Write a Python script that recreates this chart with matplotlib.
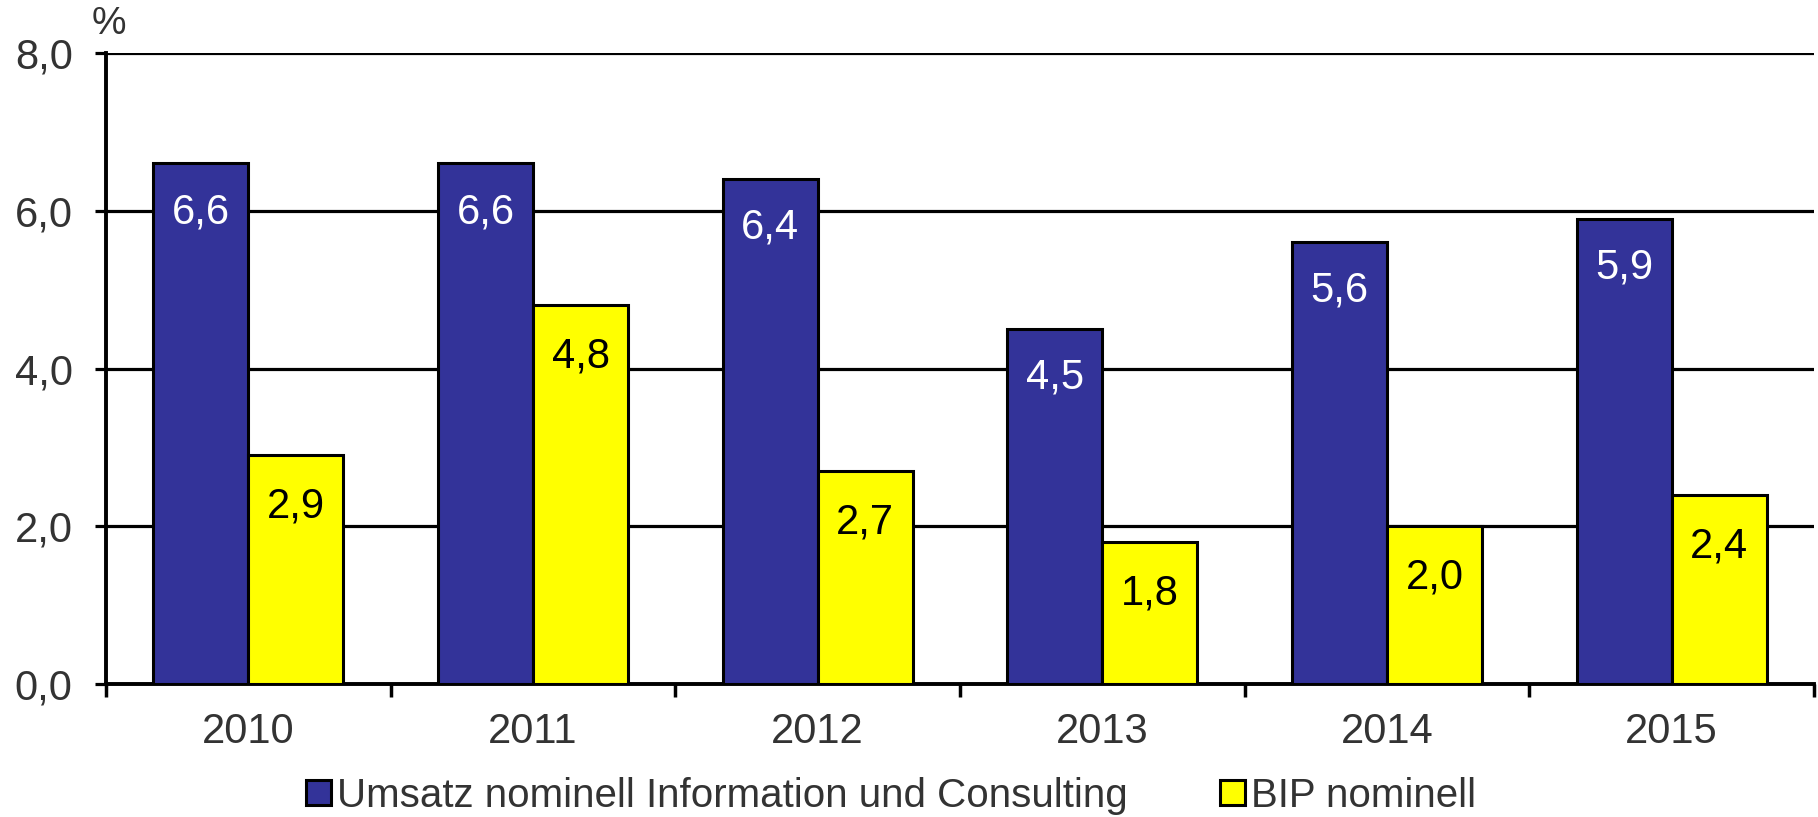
import matplotlib.pyplot as plt
import numpy as np
from matplotlib.patches import Patch

plt.rcParams['font.family'] = ['Liberation Sans', 'DejaVu Sans']

# Werte
jahre = ['2010', '2011', '2012', '2013', '2014', '2015']
umsatz = [6.6, 6.6, 6.4, 4.5, 5.6, 5.9]
bip = [2.9, 4.8, 2.7, 1.8, 2.0, 2.4]
name_umsatz = 'Umsatz nominell Information und Consulting'
name_bip = 'BIP nominell'

blau = '#333399'
gelb = '#ffff00'
grau = '#333333'

fig = plt.figure(figsize=(18.18, 8.17), dpi=100)
ax = fig.add_axes([0.0583, 0.1628, 0.9395, 0.7723])

x = np.arange(len(jahre))
b = 0.334
ax.bar(x - b/2, umsatz, b, color=blau, edgecolor='black', linewidth=2.2, zorder=3)
ax.bar(x + b/2, bip, b, color=gelb, edgecolor='black', linewidth=2.2, zorder=3)

# Beschriftung in den Balken
for i in range(len(jahre)):
    ax.annotate(f'{umsatz[i]:.1f}'.replace('.', ','), (x[i] - b/2, umsatz[i]),
                xytext=(0, -35), textcoords='offset points', ha='center', va='center',
                fontsize=30, color='white', zorder=4)
    ax.annotate(f'{bip[i]:.1f}'.replace('.', ','), (x[i] + b/2, bip[i]),
                xytext=(0, -37), textcoords='offset points', ha='center', va='center',
                fontsize=30, color='black', zorder=4)

ax.set_xlim(-0.5, len(jahre) - 0.5)
ax.set_ylim(0, 8)
ax.set_yticks([0, 2, 4, 6, 8])
ax.set_yticklabels(['0,0', '2,0', '4,0', '6,0', '8,0'])
ax.yaxis.grid(True, color='black', linewidth=2.3)
ax.set_axisbelow(True)

ax.set_xticks(x)
ax.set_xticklabels(jahre)
ax.set_xticks(np.arange(-0.5, len(jahre)), minor=True)
ax.tick_params(axis='x', which='major', length=0, pad=20, labelsize=30, labelcolor=grau)
ax.tick_params(axis='x', which='minor', length=9, width=2.5, direction='out')
ax.tick_params(axis='y', length=8, width=2.3, pad=16, labelsize=30, labelcolor=grau)

for s in ['top', 'right']:
    ax.spines[s].set_visible(False)
ax.spines['left'].set_linewidth(2.8)
ax.spines['bottom'].set_linewidth(2.8)

fig.text(0.06, 0.971, '%', fontsize=28, color=grau, ha='center', va='center')

handles = [Patch(facecolor=blau, edgecolor='black', linewidth=2.2, label=name_umsatz),
           Patch(facecolor=gelb, edgecolor='black', linewidth=2.2, label=name_bip)]
fig.legend(handles=handles, loc='center', bbox_to_anchor=(0.49, 0.026), ncol=2,
           frameon=False, fontsize=29, handlelength=0.62, handleheight=0.55,
           handletextpad=0.15, columnspacing=2.3, labelcolor=grau,
           borderpad=0, borderaxespad=0)

fig.savefig('out.png', dpi=100)
